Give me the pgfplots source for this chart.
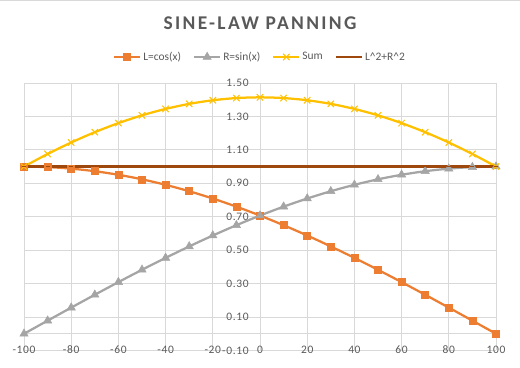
\documentclass[border=0pt]{standalone}
\usepackage{pgfplots}
\usepackage{pgfplotstable}
\pgfplotsset{compat=1.18}
\usepackage{fontspec}
\setmainfont{Carlito}
\newfontfamily\titlefont[LetterSpace=12]{Carlito}
\newfontfamily\tickfont[LetterSpace=6]{Carlito}
\definecolor{txt}{HTML}{595959}
\definecolor{gridc}{HTML}{D9D9D9}
\definecolor{cL}{HTML}{ED7D31}
\definecolor{cR}{HTML}{A5A5A5}
\definecolor{cS}{HTML}{FFC000}
\definecolor{cQ}{HTML}{9E480E}
\pgfplotstableread{
x L R S Q
-100 1.0000 0.0000 1.0000 1
-90 0.9969 0.0785 1.0754 1
-80 0.9877 0.1564 1.1441 1
-70 0.9724 0.2334 1.2058 1
-60 0.9511 0.3090 1.2601 1
-50 0.9239 0.3827 1.3066 1
-40 0.8910 0.4540 1.3450 1
-30 0.8526 0.5225 1.3751 1
-20 0.8090 0.5878 1.3968 1
-10 0.7604 0.6494 1.4099 1
0 0.7071 0.7071 1.4142 1
10 0.6494 0.7604 1.4099 1
20 0.5878 0.8090 1.3968 1
30 0.5225 0.8526 1.3751 1
40 0.4540 0.8910 1.3450 1
50 0.3827 0.9239 1.3066 1
60 0.3090 0.9511 1.2601 1
70 0.2334 0.9724 1.2058 1
80 0.1564 0.9877 1.1441 1
90 0.0785 0.9969 1.0754 1
100 0.0000 1.0000 1.0000 1
}\data
\begin{document}
\begin{tikzpicture}
\path[use as bounding box] (0,0) rectangle (520bp,368bp);
\draw[gridc, line width=0.75bp] (0,367.5bp) -- (520bp,367.5bp);
\node[font=\titlefont\fontsize{19.5}{22}\bfseries, text=txt] at (260bp,344.5bp) {SINE-LAW PANNING};
\begin{axis}[
  at={(24bp,17.5bp)}, anchor=south west,
  scale only axis, width=472bp, height=267.5bp,
  xmin=-100, xmax=100, ymin=-0.1, ymax=1.5,
  xtick={-100,-80,...,100},
  xticklabels={-100,-80,-60,-40,-20,0,20,40,60,80,100},
  ytick={-0.1,0.1,0.3,0.5,0.7,0.9,1.1,1.3,1.5},
  yticklabels={-0.10,0.10,0.30,0.50,0.70,0.90,1.10,1.30,1.50},
  extra y ticks={0}, extra y tick labels={},
  extra tick style={grid=major, major grid style={gridc, line width=0.75bp}},
  grid=major, major grid style={gridc, line width=0.75bp},
  major tick length=0pt,
  axis line style={draw=none},
  tick label style={font=\tickfont\fontsize{11.5}{13}\selectfont, text=txt},
  xticklabel style={anchor=center, inner sep=0pt, yshift=1bp},
  yticklabel style={anchor=east, inner sep=0pt, xshift=225bp},
  clip=false,
  legend columns=4,
  legend style={at={(0.5,1)}, anchor=center, yshift=26bp, draw=none, fill=none,
    font=\fontsize{11.5}{13}\selectfont, text=txt,
    /tikz/every even column/.append style={column sep=10bp}},
  legend cell align=left,
  legend image code/.code={\draw[mark repeat=2,mark phase=2,#1] plot coordinates {(0bp,0bp)(13bp,0bp)(26bp,0bp)};},
]
\addplot[cL, line width=2.25bp, smooth, mark=square*, mark size=3.5bp, mark options={solid, line width=0.5bp}] table[x=x,y=L]{\data};
\addlegendentry{L=cos(x)}
\addplot[cR, line width=2.25bp, smooth, mark=triangle*, mark size=4.8bp, mark options={solid, line width=0.5bp}] table[x=x,y=R]{\data};
\addlegendentry{R=sin(x)}
\addplot[cS, line width=2.25bp, smooth, mark=x, mark size=4.5bp, mark options={solid, line width=1bp}] table[x=x,y=S]{\data};
\addlegendentry{Sum}
\addplot[cQ, line width=2.25bp, mark=-, mark size=2bp, mark options={solid, line width=1bp}] table[x=x,y=Q]{\data};
\addlegendentry{L\^{}2+R\^{}2}
\end{axis}
\end{tikzpicture}
\end{document}
